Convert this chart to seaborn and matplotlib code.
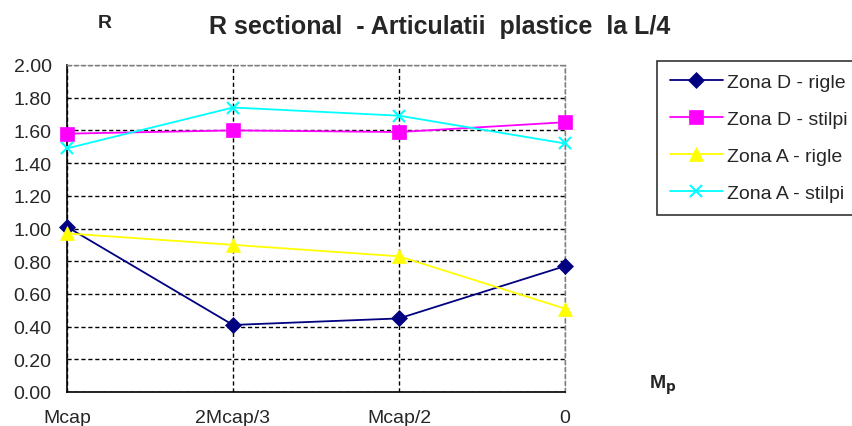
import matplotlib
matplotlib.use("Agg")
import matplotlib.pyplot as plt
import seaborn as sns
import pandas as pd
from matplotlib.ticker import MultipleLocator

categories = ["Mcap", "2Mcap/3", "Mcap/2", "0"]
zona_d_rigle = [1.01, 0.41, 0.45, 0.77]
zona_d_stilpi = [1.58, 1.60, 1.59, 1.65]
zona_a_rigle = [0.97, 0.90, 0.83, 0.51]
zona_a_stilpi = [1.49, 1.74, 1.69, 1.52]
series_names = ["Zona D - rigle", "Zona D - stilpi", "Zona A - rigle", "Zona A - stilpi"]
series_values = [zona_d_rigle, zona_d_stilpi, zona_a_rigle, zona_a_stilpi]

sns.set_style("white")
plt.rcParams['font.family'] = ['Liberation Sans', 'DejaVu Sans']

rows = []
for name, vals in zip(series_names, series_values):
    for i, v in enumerate(vals):
        rows.append({"x": i, "R": v, "series": name})
df = pd.DataFrame(rows)

colors = ["#000080", "#FF00FF", "#FFFF00", "#00FFFF"]
markers = ["D", "s", "^", "x"]
msizes = [8, 9.5, 10, 9]

fig = plt.figure(figsize=(8.53, 4.27), dpi=100)
ax = fig.add_axes([67 / 853, 1 - 393 / 427, 498 / 853, 327 / 427])

for name, c, m, ms in zip(series_names, colors, markers, msizes):
    sub = df[df["series"] == name]
    sns.lineplot(data=sub, x="x", y="R", ax=ax, color=c, marker=m, markersize=ms,
                 markeredgecolor=c, markeredgewidth=1.5 if m == "x" else 0.5,
                 linewidth=1.3, label=name, clip_on=False, zorder=3)

ax.set_xlim(0, 3)
ax.set_ylim(0, 2.0)
ax.set_xticks(range(len(categories)))
ax.set_xticklabels(categories, fontsize=14)
ax.yaxis.set_major_locator(MultipleLocator(0.2))
ax.set_yticklabels([f"{v:.2f}" for v in ax.get_yticks()], fontsize=14)
ax.set_xlabel("")
ax.set_ylabel("")
ax.grid(True, color="black", linestyle=(0, (3, 2)), linewidth=1.0)
ax.tick_params(axis="y", direction="out", length=4, width=1, color="black", pad=7)
ax.tick_params(axis="x", direction="out", length=4, width=1, color="black", pad=8)
for s in ["left", "bottom"]:
    ax.spines[s].set_color("black")
    ax.spines[s].set_linewidth(1.2)
for s in ["top", "right"]:
    ax.spines[s].set_color("#808080")
    ax.spines[s].set_linewidth(1.0)
    ax.spines[s].set_linestyle((0, (3, 2)))

leg = ax.legend(loc="upper left", bbox_to_anchor=(657.5 / 853, 1 - 61.5 / 427),
                bbox_transform=fig.transFigure, frameon=True, fancybox=False,
                fontsize=14, handlelength=2.7, labelspacing=1.0, borderpad=0.65,
                handletextpad=0.2, borderaxespad=0)
leg.get_frame().set_edgecolor("black")
leg.get_frame().set_linewidth(1.2)

fig.text(440 / 853, 1 - 27 / 427, "R sectional  - Articulatii  plastice  la L/4",
         ha="center", va="center", fontsize=18, fontweight="bold")
fig.text(105 / 853, 1 - 24 / 427, "R", ha="center", va="center", fontsize=14, fontweight="bold")
fig.text(663 / 853, 1 - 385 / 427, r"M$_\mathbf{p}$", ha="center", va="center",
         fontsize=14, fontweight="bold")

fig.savefig("out.png", dpi=100)
